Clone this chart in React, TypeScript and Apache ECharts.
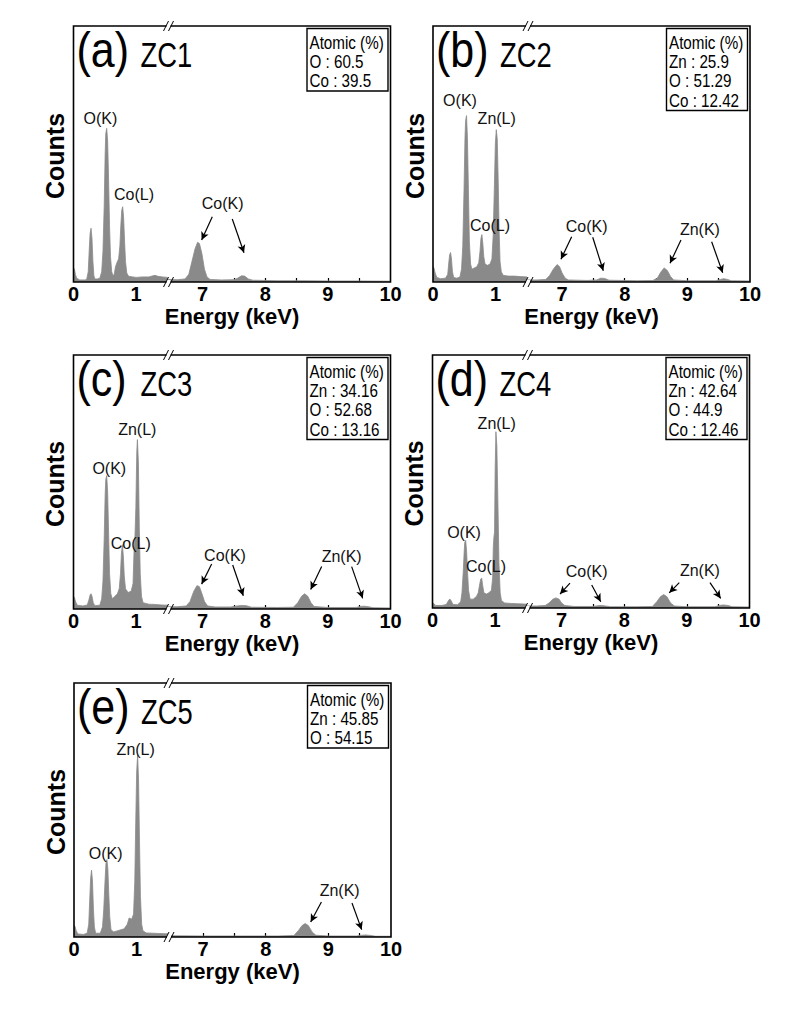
import { useEffect, useRef } from "react";
import * as echarts from "echarts";

// ---- Energy windows of the broken x axis (keV) ----
const lowRange = [0, 1.5];
const highRange = [6.44, 10];
const lowTickValues = [0.5, 1];
const lowLabelValues = [0, 1];
const highTickValues = [7, 7.5, 8, 8.5, 9, 9.5];
const highLabelValues = [7, 8, 9, 10];

// ---- EDS spectra: [energy keV, counts (% of full scale)] ----
const zc1Low = [
  [0.0, 5.5], [0.015, 5.0], [0.03, 3], [0.05, 1.5], [0.1, 0.8], [0.18, 0.8], [0.21, 1.0],
  [0.235, 4], [0.25, 12], [0.265, 19], [0.28, 21], [0.295, 17], [0.31, 8], [0.325, 2.5],
  [0.34, 1.2], [0.38, 1.2], [0.42, 1.5], [0.45, 4], [0.47, 12], [0.49, 30], [0.505, 50],
  [0.515, 58], [0.53, 60], [0.545, 55], [0.56, 40], [0.575, 22], [0.59, 10], [0.61, 4],
  [0.63, 2.5], [0.65, 3], [0.67, 6], [0.7, 8], [0.72, 9], [0.74, 14], [0.755, 22],
  [0.77, 28], [0.785, 29.4], [0.8, 25], [0.815, 16], [0.83, 8], [0.85, 3.5], [0.88, 2.2],
  [1.0, 1.8], [1.1, 2], [1.2, 2], [1.3, 2.6], [1.35, 2.2], [1.42, 2.0], [1.5, 1.8],
];
const zc1High = [
  [6.44, 1.0], [6.6, 0.9], [6.72, 1.2], [6.78, 3], [6.83, 8], [6.88, 13], [6.92, 15.5],
  [6.95, 15], [6.99, 11], [7.03, 5], [7.07, 2], [7.12, 1.0], [7.3, 0.8], [7.5, 0.9],
  [7.56, 1.5], [7.62, 2.4], [7.67, 2.3], [7.73, 1.2], [7.8, 0.7], [8.2, 0.5], [8.6, 0.5],
  [9.0, 0.4], [9.5, 0.4], [10, 0.3],
];

const zc2Low = [
  [0.0, 6], [0.015, 5.5], [0.035, 3.5], [0.06, 1.8], [0.12, 1.3], [0.2, 1.5], [0.235, 3],
  [0.25, 7], [0.265, 10.5], [0.28, 11.5], [0.295, 9], [0.31, 4], [0.33, 1.8], [0.38, 1.5],
  [0.43, 2], [0.455, 5], [0.475, 14], [0.495, 36], [0.51, 56], [0.52, 63], [0.535, 65],
  [0.55, 56], [0.565, 36], [0.58, 16], [0.6, 7], [0.62, 5], [0.66, 5.5], [0.7, 6],
  [0.73, 7.5], [0.75, 12], [0.765, 17], [0.78, 18.5], [0.795, 15], [0.81, 10], [0.83, 7],
  [0.87, 6.5], [0.91, 7], [0.94, 9], [0.96, 18], [0.98, 38], [0.995, 54], [1.01, 59.5],
  [1.025, 56], [1.04, 40], [1.055, 20], [1.07, 8], [1.09, 4], [1.12, 2.6], [1.2, 2.3],
  [1.3, 2.3], [1.4, 2.1], [1.5, 2],
];
const zc2High = [
  [6.44, 0.8], [6.6, 0.8], [6.74, 1.0], [6.8, 2.5], [6.86, 5], [6.92, 6.8], [6.96, 6],
  [7.0, 3.5], [7.05, 1.5], [7.1, 0.8], [7.4, 0.6], [7.55, 0.8], [7.62, 1.5], [7.68, 1.4],
  [7.75, 0.7], [8.2, 0.5], [8.45, 0.6], [8.52, 1.5], [8.58, 4], [8.63, 5.5], [8.68, 4.5],
  [8.73, 2.2], [8.78, 0.8], [9.0, 0.5], [9.45, 0.5], [9.53, 1.0], [9.58, 1.3], [9.64, 1.0],
  [9.7, 0.5], [10, 0.4],
];

const zc3Low = [
  [0.0, 5], [0.015, 4.5], [0.035, 2.8], [0.06, 1.5], [0.15, 1.2], [0.22, 1.6], [0.245, 3.5],
  [0.265, 5.5], [0.28, 6], [0.295, 5], [0.315, 2.5], [0.34, 1.3], [0.42, 1.5], [0.45, 4],
  [0.47, 11], [0.49, 28], [0.505, 45], [0.515, 51], [0.53, 52.5], [0.545, 46], [0.56, 30],
  [0.575, 14], [0.595, 6], [0.62, 4], [0.66, 5], [0.7, 6], [0.73, 8], [0.75, 14],
  [0.765, 22], [0.78, 25.3], [0.795, 21], [0.81, 13], [0.83, 8], [0.87, 6.5], [0.92, 7],
  [0.95, 10], [0.965, 22], [0.98, 28], [0.995, 40], [1.01, 62], [1.02, 66.7], [1.035, 58],
  [1.05, 32], [1.065, 14], [1.085, 5], [1.11, 2.5], [1.2, 1.9], [1.3, 1.8], [1.4, 1.6],
  [1.5, 1.5],
];
const zc3High = [
  [6.44, 0.9], [6.6, 0.9], [6.74, 1.2], [6.8, 3], [6.86, 7], [6.91, 9.2], [6.95, 8.8],
  [6.99, 6], [7.03, 3], [7.08, 1.2], [7.2, 0.8], [7.45, 0.8], [7.55, 1.2], [7.62, 1.4],
  [7.7, 1.3], [7.78, 0.7], [8.2, 0.6], [8.45, 0.7], [8.52, 2.5], [8.58, 5], [8.63, 6],
  [8.68, 5], [8.73, 2.5], [8.78, 1.0], [9.0, 0.6], [9.45, 0.6], [9.52, 1.0], [9.58, 1.1],
  [9.65, 0.9], [9.72, 0.5], [10, 0.4],
];

const zc4Low = [
  [0.0, 2], [0.02, 1.8], [0.05, 1], [0.15, 1], [0.22, 1.4], [0.245, 2.5], [0.265, 3.3],
  [0.28, 3.5], [0.3, 2.8], [0.325, 1.4], [0.4, 1.3], [0.45, 2.5], [0.47, 6], [0.49, 14],
  [0.505, 22], [0.515, 26], [0.53, 26.7], [0.545, 22], [0.56, 14], [0.575, 7], [0.6, 3.5],
  [0.65, 3.5], [0.7, 4.5], [0.73, 6], [0.75, 9], [0.77, 11.5], [0.785, 11.8], [0.8, 9],
  [0.82, 6], [0.86, 5.5], [0.9, 6], [0.94, 7], [0.96, 12], [0.97, 24], [0.98, 28],
  [0.99, 30], [1.0, 55], [1.012, 69.7], [1.027, 64], [1.045, 40], [1.06, 18], [1.08, 6],
  [1.1, 3], [1.15, 2], [1.25, 1.8], [1.35, 1.7], [1.45, 1.6], [1.5, 1.5],
];
const zc4High = [
  [6.44, 0.8], [6.6, 0.8], [6.74, 1.0], [6.8, 2], [6.86, 3.5], [6.91, 4], [6.96, 3.5],
  [7.0, 2], [7.05, 1], [7.2, 0.6], [7.5, 0.6], [7.58, 0.9], [7.64, 1.0], [7.7, 0.8],
  [7.78, 0.5], [8.2, 0.5], [8.45, 0.6], [8.52, 2.5], [8.58, 4.5], [8.63, 5.3], [8.68, 4.5],
  [8.74, 2], [8.8, 0.8], [9.0, 0.5], [9.45, 0.5], [9.52, 1.0], [9.58, 1.2], [9.66, 1.0],
  [9.72, 0.5], [10, 0.4],
];

const zc5Low = [
  [0.0, 4.6], [0.015, 4.2], [0.035, 2.5], [0.06, 1.2], [0.15, 1], [0.21, 1.5], [0.235, 5],
  [0.25, 14], [0.265, 23], [0.28, 26.3], [0.295, 22], [0.31, 11], [0.325, 4], [0.345, 1.5],
  [0.42, 1.5], [0.455, 4], [0.475, 11], [0.495, 22], [0.51, 29], [0.525, 30.5], [0.54, 27],
  [0.555, 17], [0.57, 8], [0.59, 3], [0.63, 2], [0.7, 2.5], [0.8, 3.2], [0.85, 5],
  [0.88, 7.5], [0.92, 7], [0.95, 9], [0.97, 22], [0.985, 45], [1.0, 65], [1.015, 71.7],
  [1.03, 62], [1.045, 38], [1.06, 16], [1.08, 5], [1.1, 2.5], [1.15, 1.6], [1.25, 1.5],
  [1.35, 1.4], [1.45, 1.3], [1.5, 1.3],
];
const zc5High = [
  [6.44, 0.5], [7.0, 0.4], [7.6, 0.4], [8.2, 0.4], [8.45, 0.6], [8.52, 2.5], [8.58, 4.5],
  [8.63, 5.3], [8.68, 4.5], [8.74, 2], [8.8, 0.7], [9.0, 0.4], [9.45, 0.4], [9.53, 0.7],
  [9.6, 0.8], [9.68, 0.6], [9.75, 0.3], [10, 0.3],
];

// ---- Atomic composition tables (%) ----
const zc1Atomic = [["O", 60.5], ["Co", 39.5]];
const zc2Atomic = [["Zn", 25.9], ["O", 51.29], ["Co", 12.42]];
const zc3Atomic = [["Zn", 34.16], ["O", 52.68], ["Co", 13.16]];
const zc4Atomic = [["Zn", 42.64], ["O", 44.9], ["Co", 12.46]];
const zc5Atomic = [["Zn", 45.85], ["O", 54.15]];

// ---- Peak annotations: [text, segment, energy, counts] ----
const zc1Peaks = [
  ["O(K)", "low", 0.43, 64], ["Co(L)", "low", 0.966, 34.3], ["Co(K)", "high", 7.32, 30.7],
];
const zc2Peaks = [
  ["O(K)", "low", 0.431, 71], ["Zn(L)", "low", 1.017, 64], ["Co(L)", "low", 0.91, 21.9],
  ["Co(K)", "high", 7.393, 21.6], ["Zn(K)", "high", 9.201, 20.6],
];
const zc3Peaks = [
  ["Zn(L)", "low", 1.018, 70.5], ["O(K)", "low", 0.571, 55.4], ["Co(L)", "low", 0.913, 25.6],
  ["Co(K)", "high", 7.358, 20.9], ["Zn(K)", "high", 9.221, 20.6],
];
const zc4Peaks = [
  ["Zn(L)", "low", 1.025, 73], ["O(K)", "low", 0.503, 29.8], ["Co(L)", "low", 0.854, 16.3],
  ["Co(K)", "high", 7.401, 14.3], ["Zn(K)", "high", 9.209, 15],
];
const zc5Peaks = [
  ["Zn(L)", "low", 0.985, 74], ["O(K)", "low", 0.506, 32.9], ["Zn(K)", "high", 9.18, 18.4],
];

// ---- Pointer arrows on the high-energy window: [[from], [to]] ----
const zc1Arrows = [
  [[7.155, 25.5], [6.985, 16.4]], [[7.474, 24.6], [7.661, 11.4]],
];
const zc2Arrows = [
  [[7.153, 17.7], [6.982, 8.9]], [[7.489, 17.5], [7.658, 4.4]],
  [[8.898, 16.4], [8.723, 7.3]], [[9.388, 15.7], [9.564, 3.6]],
];
const zc3Arrows = [
  [[7.145, 17.7], [6.985, 9.8]], [[7.481, 17.3], [7.65, 5.2]],
  [[8.901, 16.7], [8.726, 7.7]], [[9.38, 16.7], [9.556, 4.2]],
];
const zc4Arrows = [
  [[7.134, 9.8], [6.975, 5.5]], [[7.481, 9.1], [7.625, 2.5]],
  [[8.879, 10], [8.719, 6]], [[9.369, 10], [9.54, 3.8]],
];
const zc5Arrows = [
  [[8.889, 13.8], [8.718, 5.9]], [[9.377, 13.4], [9.532, 2.9]],
];

// ---- Panel layout (pixels) ----
const LOW_W = 94;
const HIGH_W = 223;
const PLOT_W = LOW_W + HIGH_W;
const FONT = "'Liberation Sans', Arial, sans-serif";
const NARROW = "'Liberation Sans Narrow', 'Arial Narrow', 'Liberation Sans', Arial, sans-serif";
const GREY = "#8a8a8a";

const panels = [
  { tag: "(a)", name: "ZC1", low: zc1Low, high: zc1High, atomic: zc1Atomic, peaks: zc1Peaks, arrows: zc1Arrows, left: 73.5, top: 26, height: 256 },
  { tag: "(b)", name: "ZC2", low: zc2Low, high: zc2High, atomic: zc2Atomic, peaks: zc2Peaks, arrows: zc2Arrows, left: 433, top: 26, height: 256 },
  { tag: "(c)", name: "ZC3", low: zc3Low, high: zc3High, atomic: zc3Atomic, peaks: zc3Peaks, arrows: zc3Arrows, left: 73.5, top: 355, height: 254 },
  { tag: "(d)", name: "ZC4", low: zc4Low, high: zc4High, atomic: zc4Atomic, peaks: zc4Peaks, arrows: zc4Arrows, left: 432.5, top: 355, height: 253 },
  { tag: "(e)", name: "ZC5", low: zc5Low, high: zc5High, atomic: zc5Atomic, peaks: zc5Peaks, arrows: zc5Arrows, left: 74, top: 683, height: 254 },
];

function buildOption() {
  const grid: any[] = [];
  const xAxis: any[] = [];
  const yAxis: any[] = [];
  const series: any[] = [];
  const graphic: any[] = [];

  const axisLabelBase = {
    fontFamily: NARROW,
    fontWeight: "bold",
    fontSize: 20,
    color: "#000",
    margin: 2,
  };
  const axisTickBase = {
    show: true,
    inside: true,
    length: 4,
    lineStyle: { color: "#000", width: 1.2 },
  };

  panels.forEach((p, i) => {
    const L = p.left;
    const T = p.top;
    const H = p.height;
    const gLow = 2 * i;
    const gHigh = 2 * i + 1;

    grid.push(
      { left: L, top: T, width: LOW_W, height: H, containLabel: false, outerBoundsMode: "none" },
      { left: L + LOW_W, top: T, width: HIGH_W, height: H, containLabel: false, outerBoundsMode: "none" }
    );
    xAxis.push(
      {
        type: "value", gridIndex: gLow, min: lowRange[0], max: lowRange[1],
        axisLine: { show: false }, splitLine: { show: false },
        axisTick: { ...axisTickBase, customValues: lowTickValues },
        axisLabel: { ...axisLabelBase, customValues: lowLabelValues },
      },
      {
        type: "value", gridIndex: gHigh, min: highRange[0], max: highRange[1],
        axisLine: { show: false }, splitLine: { show: false },
        axisTick: { ...axisTickBase, customValues: highTickValues },
        axisLabel: { ...axisLabelBase, customValues: highLabelValues },
      }
    );
    yAxis.push(
      { type: "value", gridIndex: gLow, min: 0, max: 100, show: false },
      { type: "value", gridIndex: gHigh, min: 0, max: 100, show: false }
    );

    const peakPoints = (seg: string) =>
      p.peaks
        .filter((k) => k[1] === seg)
        .map((k) => ({ name: k[0], coord: [k[2], k[3]] }));

    const markPoint = (seg: string) => ({
      symbol: "rect",
      symbolSize: 1,
      silent: true,
      itemStyle: { color: "rgba(0,0,0,0)" },
      label: {
        show: true,
        position: "inside",
        formatter: "{b}",
        color: "#111",
        fontSize: 16,
        fontFamily: FONT,
      },
      data: peakPoints(seg),
    });

    const spectrumStyle = {
      type: "line",
      showSymbol: false,
      symbol: "none",
      silent: true,
      z: 2,
      lineStyle: { color: GREY, width: 0.8 },
      areaStyle: { color: GREY, opacity: 1 },
    };

    series.push(
      {
        ...spectrumStyle,
        name: `${p.name} low`,
        xAxisIndex: gLow,
        yAxisIndex: gLow,
        data: p.low,
        markPoint: markPoint("low"),
      },
      {
        ...spectrumStyle,
        name: `${p.name} high`,
        xAxisIndex: gHigh,
        yAxisIndex: gHigh,
        data: p.high,
        markPoint: markPoint("high"),
        markLine: {
          silent: true,
          symbol: ["none", "arrow"],
          symbolSize: [6, 8],
          lineStyle: { color: "#000", width: 1.2, type: "solid" },
          label: { show: false },
          data: p.arrows.map((a) => [{ coord: a[0] }, { coord: a[1] }]),
        },
      }
    );

    // frame of the plot area
    graphic.push({
      type: "rect",
      z: 20,
      shape: { x: L, y: T, width: PLOT_W, height: H },
      style: { fill: "none", stroke: "#000", lineWidth: 1.6 },
    });

    // axis-break marks on the top and bottom borders
    const bx = L + LOW_W + 1;
    [T, T + H].forEach((yy) => {
      graphic.push(
        {
          type: "rect", z: 21,
          shape: { x: bx - 2, y: yy - 2, width: 4, height: 4 },
          style: { fill: "#fff" },
        },
        {
          type: "line", z: 22,
          shape: { x1: bx - 5, y1: yy + 5, x2: bx, y2: yy - 5 },
          style: { stroke: "#000", lineWidth: 1 },
        },
        {
          type: "line", z: 22,
          shape: { x1: bx, y1: yy + 5, x2: bx + 5, y2: yy - 5 },
          style: { stroke: "#000", lineWidth: 1 },
        }
      );
    });

    // panel title, e.g. "(a) ZC1"
    const baseline = T + 41;
    graphic.push(
      {
        type: "text", z: 25, x: L + 3, y: baseline - 0.3465 * 50, scaleX: 0.86,
        style: {
          text: p.tag, font: `50px ${FONT}`, fill: "#000",
          align: "left", verticalAlign: "middle",
        },
      },
      {
        type: "text", z: 25, x: L + 67, y: baseline - 0.3465 * 36, scaleX: 0.76,
        style: {
          text: p.name, font: `36px ${FONT}`, fill: "#000",
          align: "left", verticalAlign: "middle",
        },
      }
    );

    // atomic composition box
    const lines = ["Atomic (%)", ...p.atomic.map((r) => `${r[0]} : ${r[1]}`)];
    const boxX = L + 233.5;
    const boxY = T + 2.5;
    const boxH = 4 + 19.5 * lines.length;
    graphic.push({
      type: "rect", z: 25,
      shape: { x: boxX, y: boxY, width: 81, height: boxH },
      style: { fill: "#fff", stroke: "#000", lineWidth: 1.4 },
    });
    lines.forEach((t, k) => {
      const base = boxY + 20.3 + 19.3 * k;
      graphic.push({
        type: "text", z: 26, x: boxX + 2.5, y: base - 0.3465 * 19, scaleX: 0.8,
        style: {
          text: t, font: `19px ${FONT}`, fill: "#000",
          align: "left", verticalAlign: "middle",
        },
      });
    });

    // axis titles
    graphic.push(
      {
        type: "text", z: 25, x: L - 18.5, y: T + H / 2 + 2, rotation: Math.PI / 2,
        style: {
          text: "Counts", font: `bold 25px ${FONT}`, fill: "#000",
          align: "center", verticalAlign: "middle",
        },
      },
      {
        type: "text", z: 25, x: L + PLOT_W / 2, y: T + H + 34,
        style: {
          text: "Energy (keV)", font: `bold 22px ${FONT}`, fill: "#000",
          align: "center", verticalAlign: "middle",
        },
      }
    );
  });

  return {
    animation: false,
    backgroundColor: "#fff",
    grid,
    xAxis,
    yAxis,
    series,
    graphic,
  };
}

export default function App() {
  const ref = useRef<HTMLDivElement>(null);

  useEffect(() => {
    if (!ref.current) return;
    const chart = echarts.init(ref.current, null, { renderer: "svg" });
    chart.setOption(buildOption() as any);
    return () => chart.dispose();
  }, []);

  return (
    <div
      ref={ref}
      style={{ position: "fixed", left: 0, top: 0, width: 808, height: 1013, background: "#fff" }}
    />
  );
}
